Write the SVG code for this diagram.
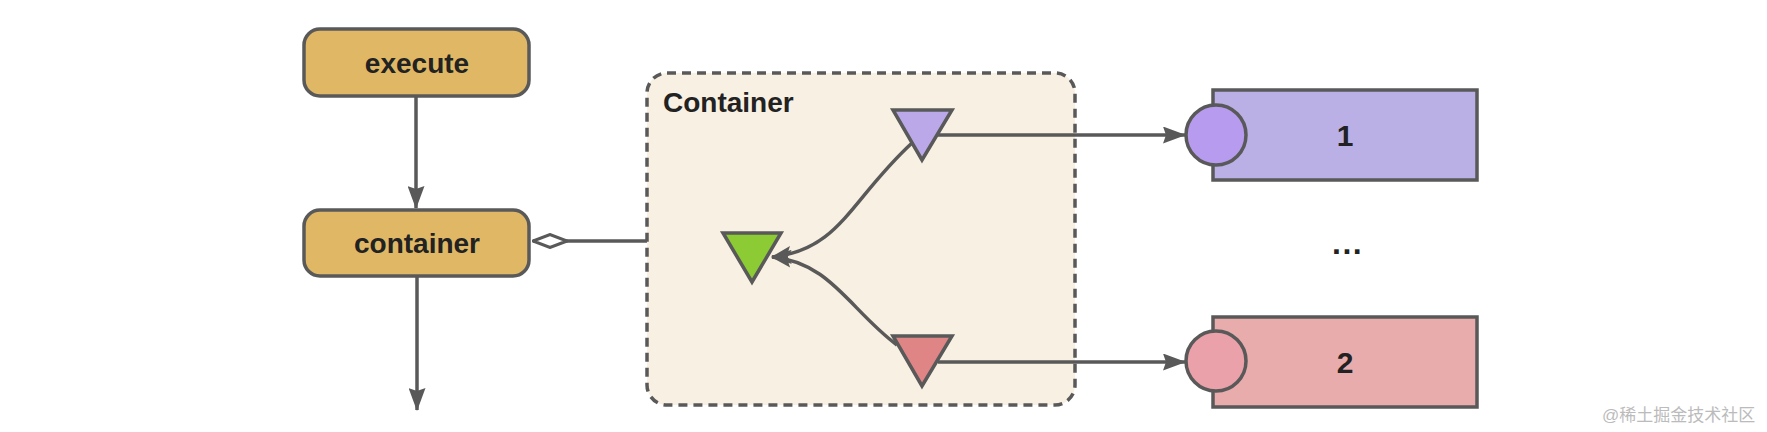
<svg xmlns="http://www.w3.org/2000/svg" width="1767" height="432" viewBox="0 0 1767 432">
<style>
.n{stroke:#595959;stroke-width:3.5}
.t{font-family:"Liberation Sans",Arial,sans-serif;font-weight:bold;font-size:28px;fill:#222;text-anchor:middle}
.c{fill:none;stroke:#595959;stroke-width:3.5}
</style>
<defs>
<marker id="ah" markerWidth="23" markerHeight="17" refX="22" refY="8.5" orient="auto" markerUnits="userSpaceOnUse" viewBox="0 0 23 17">
<path d="M0,0 L23,8.5 L0,17 L3,8.5 Z" fill="#595959"/>
</marker>
<marker id="ahb" markerWidth="20" markerHeight="18" refX="19" refY="9" orient="auto" markerUnits="userSpaceOnUse" viewBox="0 0 20 18">
<path d="M0,0 L20,9 L0,18 L4,9 Z" fill="#595959"/>
</marker>
<marker id="dia" markerWidth="36" markerHeight="16" refX="35" refY="8" orient="auto" markerUnits="userSpaceOnUse" viewBox="0 0 36 16">
<path d="M1,8 L18,1.5 L35,8 L18,14.5 Z" fill="#fff" stroke="#595959" stroke-width="3"/>
</marker>
</defs>
<rect width="1767" height="432" fill="#fff"/>
<g id="container-group">
<rect x="647" y="73" width="428" height="332" rx="20" fill="#F8F0E2" stroke="#595959" stroke-width="3.5" stroke-dasharray="9,6"/>
<text x="663" y="112" class="t" style="text-anchor:start">Container</text>
</g>
<g id="connectors">
<line x1="416" y1="97" x2="416" y2="208" class="c" marker-end="url(#ah)"/>
<line x1="417" y1="277" x2="417" y2="410" class="c" marker-end="url(#ah)"/>
<line x1="647" y1="241" x2="533" y2="241" class="c" marker-end="url(#dia)"/>
<line x1="938" y1="135" x2="1185" y2="135" class="c" marker-end="url(#ah)"/>
<line x1="938" y1="362" x2="1185" y2="362" class="c" marker-end="url(#ah)"/>
<path d="M912,143 C850,200 840,250 772,257" class="c" marker-end="url(#ahb)"/>
<path d="M897,345 C850,310 830,262 772,257" class="c" marker-end="url(#ahb)"/>
</g>
<g id="execute">
<rect x="304" y="29" width="225" height="67" rx="16" fill="#E0B865" class="n"/>
<text x="417" y="73" class="t">execute</text>
</g>
<g id="container">
<rect x="304" y="210" width="225" height="66" rx="16" fill="#E0B865" class="n"/>
<text x="417" y="253" class="t">container</text>
</g>
<g id="tri-purple"><polygon points="893,110 952,110 922,160" fill="#BBA8E8" class="n"/></g>
<g id="tri-green"><polygon points="723,233 781,233 752,282" fill="#8CCB34" class="n"/></g>
<g id="tri-red"><polygon points="893,336 952,336 922,386" fill="#E08585" class="n"/></g>
<g id="node1">
<rect x="1213" y="90" width="264" height="90" fill="#BBB0E6" class="n"/>
<circle cx="1216" cy="135" r="30" fill="#B79BEF" class="n"/>
<text x="1345" y="146" class="t" style="font-size:30px">1</text>
</g>
<g id="node2">
<rect x="1213" y="317" width="264" height="90" fill="#E8ACAD" class="n"/>
<circle cx="1216" cy="361" r="30" fill="#EBA1A9" class="n"/>
<text x="1345" y="373" class="t" style="font-size:30px">2</text>
</g>
<g id="ellipsis"><text x="1332" y="254" class="t" style="font-size:32px;letter-spacing:1.5px;text-anchor:start">...</text></g>
<text x="1602" y="421" style="font-family:'Liberation Sans','Noto Sans CJK SC',sans-serif;font-size:17px;fill:#bbb">@稀土掘金技术社区</text>
</svg>
